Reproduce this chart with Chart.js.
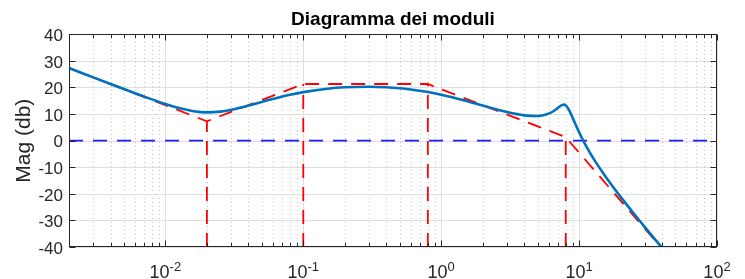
<!DOCTYPE html>
<html><head><meta charset="utf-8">
<script src="https://cdn.jsdelivr.net/npm/chart.js@4.4.0/dist/chart.umd.min.js"></script>
<style>html,body{margin:0;padding:0;background:#fff;}#wrap{width:745px;height:279px;}</style>
</head><body><div id="wrap"><canvas id="c" width="745" height="279"></canvas></div>
<script>
// ---- data ----
const freq  = [0.002, 0.0025, 0.003, 0.004, 0.005, 0.007, 0.01, 0.013, 0.016, 0.02, 0.025, 0.03, 0.04, 0.05, 0.06, 0.08, 0.1, 0.15, 0.2, 0.3, 0.4, 0.5, 0.6, 0.8, 1, 1.5, 2, 3, 4, 5, 6, 6.5, 7, 7.25, 7.5, 7.75, 8, 8.5, 9, 9.5, 10, 11, 12, 13, 15, 17, 20, 25, 30, 35, 40];
const magDb = [27.31, 25.38, 23.80, 21.32, 19.41, 16.59, 13.79, 12.05, 11.09, 10.65, 10.93, 11.62, 13.18, 14.55, 15.66, 17.24, 18.25, 19.55, 20.06, 20.27, 20.07, 19.71, 19.27, 18.29, 17.28, 15.02, 13.21, 10.76, 9.51, 9.27, 10.15, 11.06, 12.26, 12.88, 13.37, 13.56, 13.28, 11.31, 8.48, 5.67, 3.14, -1.11, -4.57, -7.51, -12.35, -16.30, -21.15, -27.51, -32.54, -36.73, -40.32];
const asymFreq = [0.002, 0.02, 0.1, 0.8, 8, 39];
const asymDb   = [27.3, 7.3, 21.3, 21.3, 1.3, -40];
const breakFreqs = [0.02, 0.1, 0.8, 8];
const breakDb    = [7.3, 21.3, 21.3, 1.3];
const zeroFreq = [0.002, 100];
const zeroDb   = [0, 0];
const yTicks = [-40, -30, -20, -10, 0, 10, 20, 30, 40];
const xDecades = [0.01, 0.1, 1, 10, 100];
const xExponents = ['-2', '-1', '0', '1', '2'];
const xMin = 0.002, xMax = 100, yMin = -40, yMax = 40;
const titleText = 'Diagramma dei moduli';
const yLabel = 'Mag (db)';

const FONT = '"Liberation Sans", Arial, Helvetica, sans-serif';
const AXC = '#262626';

const pts = (xs, ys) => xs.map((v, i) => ({x: v, y: ys[i]}));

const datasets = [
  {data: pts(freq, magDb), borderColor: '#0072BD', borderWidth: 2.6, pointRadius: 0, cubicInterpolationMode: 'monotone', fill: false},
  {data: pts(asymFreq, asymDb), borderColor: '#ff0000', borderWidth: 1.8, borderDash: [14, 9], pointRadius: 0, tension: 0, fill: false}
];
breakFreqs.forEach((f, i) => {
  datasets.push({data: [{x: f, y: yMin}, {x: f, y: breakDb[i]}], borderColor: '#ff0000', borderWidth: 1.8, borderDash: [14, 9], pointRadius: 0, fill: false});
});
datasets.push({data: pts(zeroFreq, zeroDb), borderColor: '#1a1aff', borderWidth: 1.6, borderDash: [14, 10], pointRadius: 0, fill: false});

function minorValues() {
  const out = [];
  for (let e = -3; e <= 1; e++) for (let m = 2; m <= 9; m++) {
    const v = m * Math.pow(10, e);
    if (v > xMin * 0.999 && v < xMax) out.push(v);
  }
  return out;
}

const gridPlugin = {
  id: 'matlabGrid',
  beforeDatasetsDraw(chart) {
    const {ctx, chartArea: a, scales: {x, y}} = chart;
    ctx.save();
    ctx.lineWidth = 1;
    // minor dotted verticals
    ctx.strokeStyle = '#c4c4c4';
    ctx.setLineDash([1, 3]);
    minorValues().forEach(v => {
      const px = Math.round(x.getPixelForValue(v)) + 0.5;
      ctx.beginPath(); ctx.moveTo(px, a.bottom); ctx.lineTo(px, a.top); ctx.stroke();
    });
    ctx.setLineDash([]);
    ctx.strokeStyle = '#dfdfdf';
    xDecades.forEach(v => {
      const px = Math.round(x.getPixelForValue(v)) + 0.5;
      ctx.beginPath(); ctx.moveTo(px, a.bottom); ctx.lineTo(px, a.top); ctx.stroke();
    });
    yTicks.forEach(v => {
      const py = Math.round(y.getPixelForValue(v)) + 0.5;
      ctx.beginPath(); ctx.moveTo(a.left, py); ctx.lineTo(a.right, py); ctx.stroke();
    });
    ctx.restore();
  },
  afterDatasetsDraw(chart) {
    const {ctx, chartArea: a, scales: {x, y}} = chart;
    ctx.save();
    ctx.strokeStyle = AXC;
    ctx.lineWidth = 1;
    const L = Math.round(a.left) + 0.5, R = Math.round(a.right) - 0.5, T = Math.round(a.top) + 0.5, B = Math.round(a.bottom) - 0.5;
    ctx.strokeRect(L, T, R - L, B - T);
    ctx.beginPath();
    minorValues().forEach(v => {
      const px = Math.round(x.getPixelForValue(v)) + 0.5;
      ctx.moveTo(px, B); ctx.lineTo(px, B - 3.5);
      ctx.moveTo(px, T); ctx.lineTo(px, T + 3.5);
    });
    xDecades.forEach(v => {
      const px = Math.round(x.getPixelForValue(v)) + 0.5;
      ctx.moveTo(px, B); ctx.lineTo(px, B - 6);
      ctx.moveTo(px, T); ctx.lineTo(px, T + 6);
    });
    yTicks.forEach(v => {
      const py = Math.round(y.getPixelForValue(v)) + 0.5;
      ctx.moveTo(L, py); ctx.lineTo(L + 6, py);
      ctx.moveTo(R, py); ctx.lineTo(R - 6, py);
    });
    ctx.stroke();
    // x tick labels with superscript exponents
    ctx.fillStyle = AXC;
    ctx.textBaseline = 'alphabetic';
    ctx.textAlign = 'left';
    const baseY = 278;
    xDecades.forEach((v, i) => {
      const px = x.getPixelForValue(v);
      ctx.font = '18px ' + FONT;
      const w1 = ctx.measureText('10').width;
      ctx.font = '13px ' + FONT;
      const w2 = ctx.measureText(xExponents[i]).width;
      const start = px - (w1 + w2) / 2;
      ctx.font = '18px ' + FONT;
      ctx.fillText('10', start, baseY);
      ctx.font = '13px ' + FONT;
      ctx.fillText(xExponents[i], start + w1, baseY - 7.5);
    });
    ctx.restore();
  }
};

new Chart(document.getElementById('c'), {
  type: 'line',
  data: {datasets},
  options: {
    responsive: false,
    animation: false,
    devicePixelRatio: 1,
    layout: {padding: {left: 0, right: 28, top: 0, bottom: 0}},
    plugins: {
      legend: {display: false},
      tooltip: {enabled: false},
      title: {display: true, text: titleText, fullSize: false, color: '#000',
        font: {family: FONT, size: 19, weight: 'bold'}, padding: {top: 8, bottom: 3.5}}
    },
    scales: {
      x: {
        type: 'logarithmic', min: xMin, max: xMax,
        afterBuildTicks: s => { s.ticks = xDecades.map(v => ({value: v})); },
        ticks: {display: false},
        grid: {display: false, drawTicks: false},
        border: {display: false},
        afterFit: s => { s.height = 32; }
      },
      y: {
        type: 'linear', min: yMin, max: yMax,
        afterBuildTicks: s => { s.ticks = yTicks.map(v => ({value: v})); },
        ticks: {color: AXC, font: {family: FONT, size: 17}, padding: 6, labelOffset: 2},
        grid: {display: false, drawTicks: false},
        border: {display: false},
        title: {display: true, text: yLabel, color: AXC, font: {family: FONT, size: 21}, padding: {top: 12, bottom: 0}},
        afterFit: s => { s.width = 69; }
      }
    }
  },
  plugins: [gridPlugin]
});
</script>
</body></html>
